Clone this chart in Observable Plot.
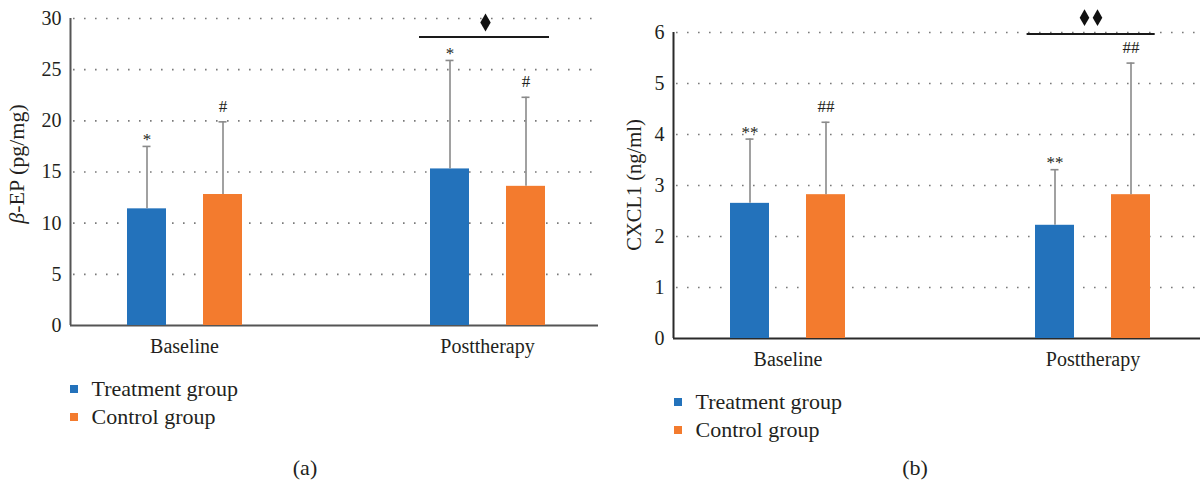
<!DOCTYPE html>
<html>
<head>
<meta charset="utf-8">
<script src="https://cdn.jsdelivr.net/npm/d3@7"></script>
<script src="https://cdn.jsdelivr.net/npm/@observablehq/plot@0.6"></script>
<style>
  body { margin: 0; background: #fff; }
  #root { position: relative; width: 1202px; height: 481px; overflow: hidden;
          font-family: "Liberation Serif", "Times New Roman", serif; color: #231f20; background: #fff; }
  #root svg text { font-family: "Liberation Serif", "Times New Roman", serif !important; }
  #root svg g[aria-label^="y-axis"] text,
  #root svg g[aria-label^="fx-axis"] text { font-size: 20px; fill: #231f20; }
  .layer { position: absolute; left: 0; top: 0; }
  .ylab { position: absolute; white-space: nowrap; line-height: 22px;
          transform: translate(-50%, -50%) rotate(-90deg); }
  .legrow { position: absolute; white-space: nowrap; font-size: 22px; height: 28px; line-height: 28px;
            display: flex; align-items: center; }
  .sw { display: inline-block; width: 8px; height: 8px; margin-right: 13.5px; }
  .cap { position: absolute; font-size: 22px; line-height: 22px; transform: translate(-50%, -50%); }
</style>
</head>
<body>
<div id="root"></div>
<script>
// ---------- data ----------
const categories = ["Baseline", "Posttherapy"];
const groups = ["Treatment group", "Control group"];
const groupColors = ["#2372bb", "#f37b2e"];

// Panel (a): beta-EP (pg/mg)
const betaTreatment = [11.4, 15.3];
const betaTreatmentUpper = [17.5, 25.9];
const betaControl = [12.8, 13.6];
const betaControlUpper = [19.9, 22.3];
const betaTreatmentMarks = ["*", "*"];
const betaControlMarks = ["#", "#"];
const betaTicks = [0, 5, 10, 15, 20, 25, 30];
const betaSig = { category: "Posttherapy", line: 28.2, symbol: 29.6, count: 1 };

// Panel (b): CXCL1 (ng/ml)
const cxclTreatment = [2.65, 2.22];
const cxclTreatmentUpper = [3.91, 3.31];
const cxclControl = [2.82, 2.82];
const cxclControlUpper = [4.24, 5.40];
const cxclTreatmentMarks = ["**", "**"];
const cxclControlMarks = ["##", "##"];
const cxclTicks = [0, 1, 2, 3, 4, 5, 6];
const cxclSig = { category: "Posttherapy", line: 5.97, symbol: 6.29, count: 2 };

// ---------- drawing ----------
const root = document.getElementById("root");
const FONT = '"Liberation Serif", "Times New Roman", serif';

function panel(cfg) {
  const rows = [];
  categories.forEach((c, i) => {
    rows.push({ category: c, group: groups[0], value: cfg.t[i], upper: cfg.tu[i], mark: cfg.tm[i] });
    rows.push({ category: c, group: groups[1], value: cfg.c[i], upper: cfg.cu[i], mark: cfg.cm[i] });
  });
  const ymax = cfg.ticks[cfg.ticks.length - 1];
  const wrap = document.createElement("div");
  wrap.style.cssText = `position:absolute;left:${cfg.left}px;top:0;width:${cfg.width}px;height:${cfg.height}px;`;
  const common = {
    width: cfg.width, height: cfg.height,
    marginLeft: cfg.ml, marginRight: cfg.mr, marginTop: cfg.mt, marginBottom: cfg.mb,
    style: { background: "transparent", fontFamily: FONT, fontSize: "20px", color: "#231f20", overflow: "visible" }
  };
  const bg = Plot.plot({
    ...common,
    x: { domain: [0, 1], axis: null },
    y: { domain: [0, ymax], ticks: cfg.ticks.length - 1, tickSize: 0, tickPadding: 9, label: null },
    marks: [
      Plot.ruleY(cfg.ticks.filter(d => d > 0), { stroke: "#7a7a7a", strokeWidth: 1.6, strokeDasharray: "1.6,9.4", strokeDashoffset: -3 }),
      Plot.ruleY([0], { stroke: cfg.axisColor, strokeWidth: 2 }),
      Plot.ruleX([0], { y1: 0, y2: ymax, stroke: cfg.axisColor, strokeWidth: 2 })
    ]
  });
  const treat = rows.filter(d => d.group === groups[0]);
  const ctrl = rows.filter(d => d.group === groups[1]);
  const sigMarks = [
    Plot.ruleY([cfg.sig], { fx: "category", y: "line", stroke: "#1a1a1a", strokeWidth: 2,
      insetLeft: cfg.sigInsetL, insetRight: cfg.sigInsetR })
  ];
  for (let k = 0; k < cfg.sig.count; k++) {
    sigMarks.push(Plot.dot([cfg.sig], { fx: "category", y: "symbol", symbol: "diamond", r: cfg.dr,
      fill: "#111", stroke: "none", dx: (k - (cfg.sig.count - 1) / 2) * 13 + cfg.ddx }));
  }
  const fg = Plot.plot({
    ...common,
    fx: { domain: categories, paddingInner: 0.5, paddingOuter: cfg.po, align: cfg.align,
          axis: "bottom", tickSize: 0, tickPadding: 13, label: null },
    x: { domain: groups, paddingInner: 0.49, paddingOuter: 0.24, axis: null },
    y: { domain: [0, ymax], axis: null },
    color: { domain: groups, range: groupColors },
    marks: [
      Plot.barY(rows, { fx: "category", x: "group", y: "value", fill: "group" }),
      Plot.ruleX(rows, { fx: "category", x: "group", y1: "value", y2: "upper", stroke: "#8a8a8a", strokeWidth: 1.6 }),
      Plot.tickY(rows, { fx: "category", x: "group", y: "upper", stroke: "#8a8a8a", strokeWidth: 1.6,
        insetLeft: 15.5, insetRight: 15.5 }),
      Plot.text(treat, { fx: "category", x: "group", y: "upper", text: "mark", dy: -7, fontSize: 17, fill: "#231f20" }),
      Plot.text(ctrl, { fx: "category", x: "group", y: "upper", text: "mark", dy: -15.5, fontSize: 17, fill: "#231f20" }),
      ...sigMarks
    ]
  });
  bg.classList.add("layer"); fg.classList.add("layer");
  wrap.appendChild(bg); wrap.appendChild(fg);
  root.appendChild(wrap);

  const yl = document.createElement("div");
  yl.className = "ylab";
  yl.innerHTML = cfg.ylabel;
  yl.style.fontSize = cfg.ylSize + "px";
  yl.style.left = cfg.ylx + "px"; yl.style.top = cfg.yly + "px";
  root.appendChild(yl);

  groups.forEach((g, i) => {
    const r = document.createElement("div");
    r.className = "legrow";
    r.style.left = cfg.legX + "px";
    r.style.top = (cfg.legY[i] - 14) + "px";
    const sw = document.createElement("span");
    sw.className = "sw"; sw.style.background = groupColors[i];
    r.appendChild(sw);
    r.appendChild(document.createTextNode(g));
    root.appendChild(r);
  });

  const cap = document.createElement("div");
  cap.className = "cap";
  cap.textContent = cfg.caption;
  cap.style.left = cfg.capX + "px"; cap.style.top = "468px";
  root.appendChild(cap);
}

panel({
  left: 0, width: 600, height: 360, ml: 70, mr: 2, mt: 18, mb: 35,
  po: 0.12, align: 0.517, axisColor: "#555",
  t: betaTreatment, tu: betaTreatmentUpper, c: betaControl, cu: betaControlUpper,
  tm: betaTreatmentMarks, cm: betaControlMarks, ticks: betaTicks, sig: betaSig,
  sigInsetL: 8, sigInsetR: 14, dr: 5.46, ddx: -2,
  ylabel: '<i>β</i>-EP (pg/mg)', ylSize: 22, ylx: 17, yly: 164,
  legX: 70, legY: [389, 417], caption: "(a)", capX: 305
});

panel({
  left: 600, width: 602, height: 372, ml: 73, mr: 2, mt: 32, mb: 34,
  po: 0.1117, align: 0.55, axisColor: "#2a2a2a",
  t: cxclTreatment, tu: cxclTreatmentUpper, c: cxclControl, cu: cxclControlUpper,
  tm: cxclTreatmentMarks, cm: cxclControlMarks, ticks: cxclTicks, sig: cxclSig,
  sigInsetL: 10.6, sigInsetR: 14.3, dr: 5.06, ddx: -2,
  ylabel: 'CXCL1 (ng/ml)', ylSize: 20.5, ylx: 634, yly: 185,
  legX: 674, legY: [402, 430], caption: "(b)", capX: 915
});
</script>
</body>
</html>
